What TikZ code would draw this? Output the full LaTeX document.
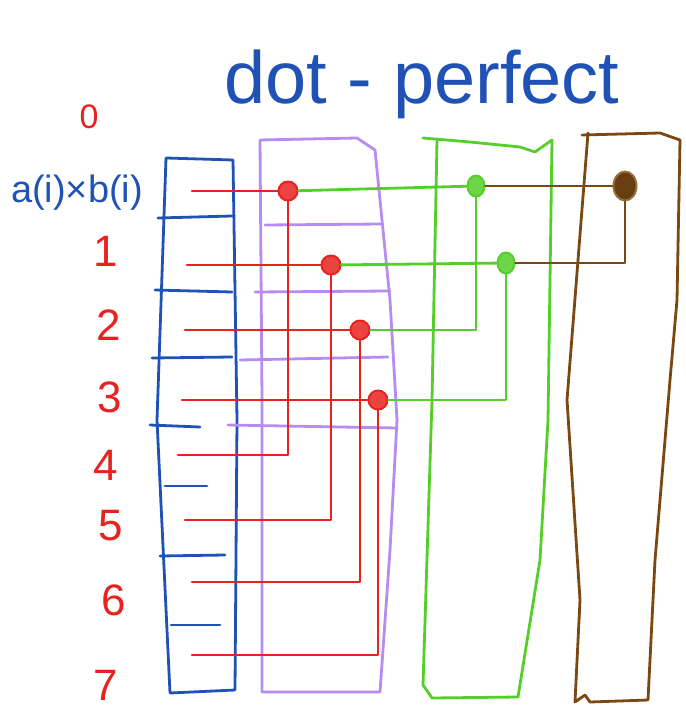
\documentclass[tikz,border=0pt]{standalone}
\usepackage{fontspec}
\setmainfont{Liberation Sans}
\usepackage{xcolor}
\usetikzlibrary{shapes.geometric}

\definecolor{penblue}{RGB}{32,82,182}
\definecolor{penred}{RGB}{232,34,30}
\definecolor{penpurple}{RGB}{182,140,240}
\definecolor{pengreen}{RGB}{84,206,40}
\definecolor{penbrown}{RGB}{122,72,18}

\begin{document}
\begin{tikzpicture}[
	x=1pt, y=-1pt,
	line cap=round, line join=round,
	pen/.style={line width=2.8pt},
	bline/.style={pen, draw=penblue},
	pline/.style={pen, draw=penpurple},
	rline/.style={pen, draw=penred},
	gline/.style={pen, draw=pengreen},
	brline/.style={pen, draw=penbrown},
	rdot/.style={
		circle, draw=penred, fill=penred!85,
		line width=2pt, minimum size=19pt, inner sep=0pt
	},
	gdot/.style={
		ellipse, draw=pengreen, fill=pengreen!85,
		line width=2pt, minimum width=17pt, minimum height=21pt, inner sep=0pt
	},
	brdot/.style={
		ellipse, draw=penbrown!80, fill=penbrown!85!black,
		line width=2pt, minimum width=23pt, minimum height=29pt, inner sep=0pt
	},
	num/.style={text=penred, font=\fontsize{44}{44}\selectfont, inner sep=0pt, anchor=base},
	title/.style={text=penblue, font=\fontsize{74}{74}\selectfont, inner sep=0pt, anchor=base}
	]
	\useasboundingbox (0,0) rectangle (685,708);
	
	\node[title] (title) at (422,104) {dot - perfect};
	\node[num, font=\fontsize{34}{34}\selectfont] (n0) at (89,129) {0};
	\node[text=penblue, font=\fontsize{38}{38}\selectfont, inner sep=0pt] (prod) at (77,193) {a(i)×b(i)};
	\node[num] (n1) at (106,266) {1};
	\node[num] (n2) at (109,340) {2};
	\node[num] (n3) at (110,412) {3};
	\node[num] (n4) at (106,480) {4};
	\node[num] (n5) at (111,540) {5};
	\node[num] (n6) at (114,615) {6};
	\node[num] (n7) at (106,700) {7};
	
	% input column
	\draw[bline] (166,158) -- (233,160) -- (237,420) -- (235,690) -- (170,693) -- (157,420) -- cycle;
	\draw[bline] (158,218) -- (232,216);
	\draw[bline] (155,290) -- (232,292);
	\draw[bline] (152,358) -- (232,357);
	\draw[bline] (150,425) -- (200,427);
	\draw[bline] (165,486) -- (207,486);
	\draw[bline] (160,556) -- (225,555);
	\draw[bline] (171,625) -- (220,625);
	
	% first reduction column
	\draw[pline] (260,140) -- (357,138) -- (375,150) -- (390,300) -- (397,420) -- (390,550) -- (380,692) -- (262,692) -- (262,400) -- cycle;
	\draw[pline] (265,225) -- (382,224);
	\draw[pline] (255,292) -- (390,291);
	\draw[pline] (240,360) -- (388,357);
	\draw[pline] (228,425) -- (397,428);
	
	% second reduction column
	\draw[gline] (423,138) -- (470,142) -- (520,147) -- (535,152) -- (552,140) -- (548,420) -- (540,560) -- (518,697) -- (432,698) -- (423,685) -- (432,400) -- (437,140);
	
	% third reduction column
	\draw[brline] (582,135) -- (660,133) -- (680,140) -- (677,300) -- (670,380) -- (655,560) -- (648,700) -- (590,702) -- (585,695) -- (575,702) -- (580,600) -- (567,400) -- (588,133);
	
	\coordinate (r0) at (192,191);
	\coordinate (r1) at (187,265);
	\coordinate (r2) at (185,330);
	\coordinate (r3) at (182,400);
	\coordinate (r4) at (178,455);
	\coordinate (r5) at (185,520);
	\coordinate (r6) at (192,582);
	\coordinate (r7) at (192,655);
	
	\node[rdot] (d0) at (288,191) {};
	\node[rdot] (d1) at (331,265) {};
	\node[rdot] (d2) at (360,330) {};
	\node[rdot] (d3) at (378,400) {};
	\node[gdot] (g0) at (476,186) {};
	\node[gdot] (g1) at (506,263) {};
	\node[brdot] (b0) at (625,186) {};
	
	\draw[rline] (r0) -- (d0);
	\draw[rline] (r1) -- (d1);
	\draw[rline] (r2) -- (d2);
	\draw[rline] (r3) -- (d3);
	\draw[rline] (r4) -| (d0);
	\draw[rline] (r5) -| (d1);
	\draw[rline] (r6) -| (d2);
	\draw[rline] (r7) -| (d3);
	
	\draw[gline] (d0) -- (g0);
	\draw[gline] (d1) -- (g1);
	\draw[gline] (d2) -| (g0);
	\draw[gline] (d3) -| (g1);
	
	\draw[brline] (g0) -- (b0);
	\draw[brline] (g1) -| (b0);
\end{tikzpicture}
\end{document}
